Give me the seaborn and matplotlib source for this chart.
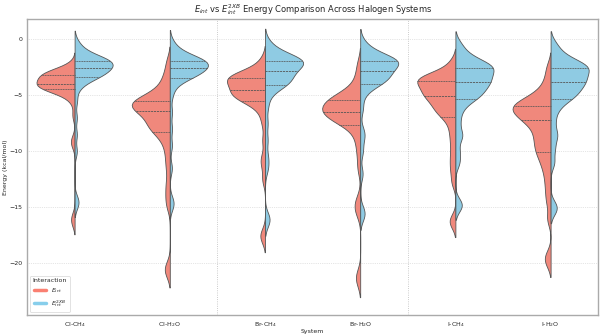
import pandas as pd
import matplotlib.pyplot as plt
import seaborn as sns
from matplotlib.lines import Line2D

systems = ["Cl-CH$_4$", "Cl-H$_2$O", "Br-CH$_4$", "Br-H$_2$O", "I-CH$_4$", "I-H$_2$O"]
interactions = ["$E_{int}$", "$E_{int}^{2XB}$"]

# energies (kcal/mol), one list per system / interaction
cl_ch4_eint = [-2.2, -2.6, -2.8, -2.9, -2.95, -3.0, -3.0, -3.05, -3.08, -3.1,
               -3.2, -3.3, -3.4, -3.5, -3.6, -3.65, -3.7, -3.8, -3.9, -3.98,
               -4.02, -4.08, -4.12, -4.18, -4.22, -4.28, -4.32, -4.38, -4.42, -4.45,
               -4.55, -4.7, -4.85, -5.1, -5.6, -6.8, -8.9, -9.4, -15.8, -16.4]
cl_ch4_2xb = [-0.3, -0.8, -1.1, -1.3, -1.5, -1.6, -1.7, -1.78, -1.84, -1.9,
              -1.95, -2.0, -2.05, -2.1, -2.2, -2.25, -2.3, -2.4, -2.48, -2.56,
              -2.62, -2.7, -2.8, -2.9, -3.0, -3.08, -3.15, -3.22, -3.3, -3.37,
              -3.5, -3.7, -4.0, -4.4, -5.5, -7.0, -8.5, -10.0, -14.3, -14.8]
cl_h2o_eint = [-2.0, -3.0, -3.6, -4.1, -4.5, -4.8, -5.0, -5.2, -5.35, -5.45,
               -5.55, -5.62, -5.7, -5.78, -5.85, -5.95, -6.05, -6.15, -6.25, -6.38,
               -6.5, -6.7, -6.9, -7.1, -7.3, -7.5, -7.7, -7.9, -8.05, -8.18,
               -8.5, -9.0, -9.6, -10.5, -11.5, -12.8, -13.8, -14.8, -20.3, -20.8]
cl_h2o_2xb = [-0.3, -0.8, -1.15, -1.35, -1.5, -1.62, -1.72, -1.8, -1.86, -1.9,
              -1.95, -2.0, -2.06, -2.12, -2.2, -2.27, -2.33, -2.42, -2.5, -2.56,
              -2.62, -2.7, -2.78, -2.88, -2.98, -3.08, -3.16, -3.24, -3.31, -3.37,
              -3.55, -3.8, -4.2, -5.0, -6.5, -8.0, -9.5, -11.5, -14.4, -14.9]
br_ch4_eint = [-1.8, -2.4, -2.8, -3.0, -3.1, -3.2, -3.25, -3.3, -3.35, -3.4,
               -3.5, -3.6, -3.7, -3.78, -3.86, -3.95, -4.1, -4.25, -4.38, -4.5,
               -4.6, -4.7, -4.8, -4.9, -5.0, -5.1, -5.2, -5.3, -5.38, -5.45,
               -5.7, -6.1, -6.6, -7.5, -9.0, -10.5, -11.2, -12.5, -17.3, -17.8]
br_ch4_2xb = [-0.3, -0.8, -1.1, -1.35, -1.5, -1.62, -1.72, -1.8, -1.85, -1.9,
              -1.95, -2.0, -2.05, -2.12, -2.2, -2.3, -2.42, -2.55, -2.68, -2.8,
              -2.9, -3.05, -3.2, -3.35, -3.5, -3.62, -3.75, -3.87, -3.97, -4.06,
              -4.2, -4.5, -5.0, -6.0, -7.5, -9.0, -10.5, -11.5, -15.9, -16.3]
br_h2o_eint = [-2.2, -3.2, -3.9, -4.4, -4.75, -4.95, -5.1, -5.2, -5.28, -5.33,
               -5.45, -5.6, -5.75, -5.85, -5.95, -6.05, -6.15, -6.25, -6.33, -6.42,
               -6.5, -6.6, -6.7, -6.8, -6.92, -7.05, -7.18, -7.3, -7.42, -7.52,
               -7.9, -8.5, -9.2, -10.2, -11.5, -14.3, -14.9, -15.5, -21.0, -21.6]
br_h2o_2xb = [-0.3, -0.8, -1.1, -1.35, -1.5, -1.62, -1.72, -1.8, -1.85, -1.9,
              -1.95, -2.0, -2.05, -2.12, -2.2, -2.3, -2.42, -2.55, -2.68, -2.8,
              -2.9, -3.02, -3.15, -3.28, -3.4, -3.52, -3.63, -3.73, -3.83, -3.91,
              -4.1, -4.4, -5.0, -6.2, -8.2, -8.8, -10.0, -12.0, -15.3, -15.8]
i_ch4_eint = [-2.0, -2.6, -3.0, -3.2, -3.3, -3.4, -3.47, -3.53, -3.59, -3.64,
              -3.75, -3.9, -4.05, -4.2, -4.35, -4.5, -4.62, -4.74, -4.86, -4.98,
              -5.1, -5.25, -5.4, -5.6, -5.8, -6.0, -6.2, -6.4, -6.6, -6.82,
              -7.2, -7.8, -8.5, -9.3, -10.2, -11.0, -11.8, -12.8, -16.0, -16.5]
i_ch4_2xb = [-0.4, -1.0, -1.4, -1.7, -1.9, -2.05, -2.2, -2.32, -2.42, -2.5,
             -2.58, -2.68, -2.8, -2.95, -3.1, -3.25, -3.4, -3.52, -3.64, -3.75,
             -3.85, -4.0, -4.15, -4.3, -4.45, -4.6, -4.8, -4.98, -5.12, -5.26,
             -5.5, -5.9, -6.5, -7.4, -8.4, -8.8, -10.0, -11.0, -14.6, -15.0]
i_h2o_eint = [-2.5, -3.5, -4.2, -4.7, -5.0, -5.25, -5.45, -5.6, -5.75, -5.86,
              -5.95, -6.05, -6.15, -6.25, -6.4, -6.55, -6.7, -6.85, -7.0, -7.18,
              -7.3, -7.5, -7.8, -8.1, -8.4, -8.7, -9.0, -9.35, -9.65, -9.95,
              -10.3, -10.7, -11.2, -11.8, -12.6, -13.5, -14.5, -16.0, -19.3, -19.9]
i_h2o_2xb = [-0.4, -1.0, -1.4, -1.7, -1.9, -2.05, -2.2, -2.32, -2.42, -2.5,
             -2.58, -2.68, -2.8, -2.95, -3.1, -3.25, -3.4, -3.52, -3.64, -3.75,
             -3.85, -4.0, -4.15, -4.3, -4.45, -4.6, -4.8, -4.98, -5.12, -5.26,
             -5.5, -5.9, -6.4, -7.3, -8.3, -8.8, -9.8, -11.0, -14.8, -15.3]

eint_sets = [cl_ch4_eint, cl_h2o_eint, br_ch4_eint, br_h2o_eint, i_ch4_eint, i_h2o_eint]
xb_sets = [cl_ch4_2xb, cl_h2o_2xb, br_ch4_2xb, br_h2o_2xb, i_ch4_2xb, i_h2o_2xb]

rows = []
for s, a, b in zip(systems, eint_sets, xb_sets):
    rows += [(s, interactions[0], v) for v in a]
    rows += [(s, interactions[1], v) for v in b]
df = pd.DataFrame(rows, columns=["System", "Interaction", "Energy"])

sns.set_theme(style="whitegrid")
plt.rcParams["font.family"] = ["DejaVu Sans"]
colors = {interactions[0]: "salmon", interactions[1]: "skyblue"}

fig, ax = plt.subplots(figsize=(12, 6.7), dpi=50)
sns.violinplot(data=df, x="System", y="Energy", hue="Interaction", order=systems,
               hue_order=interactions, split=True, inner="quart", palette=colors,
               density_norm="width", bw_adjust=0.35, linecolor="#555555",
               linewidth=1.2, saturation=0.85, ax=ax, legend=False)

# separators between halogen groups
for xv in [1.5, 3.5]:
    ax.axvline(xv, color="#bbbbbb", linestyle=":", linewidth=1.2)

ax.grid(axis="y", linestyle=":", color="#cccccc", linewidth=1)
ax.grid(axis="x", visible=False)
ax.set_ylim(-24.6, 1.8)
ax.set_xlim(-0.5, 5.5)
ax.set_yticks([0, -5, -10, -15, -20])
for sp in ax.spines.values():
    sp.set_color("#aaaaaa")
    sp.set_linewidth(2)

ax.set_title("$E_{int}$ vs $E_{int}^{2XB}$ Energy Comparison Across Halogen Systems",
             fontsize=12, pad=10)
ax.set_xlabel("System", fontsize=9, labelpad=1)
ax.set_ylabel("Energy (kcal/mol)", fontsize=9, labelpad=1)
ax.tick_params(labelsize=9, pad=1)

handles = [Line2D([0], [0], color=colors[k], lw=5) for k in interactions]
ax.legend(handles, interactions, title="Interaction", loc="lower left",
          fontsize=9, title_fontsize=9, frameon=True)

fig.subplots_adjust(left=0.045, right=0.997, top=0.943, bottom=0.06)
fig.savefig("out.png")
